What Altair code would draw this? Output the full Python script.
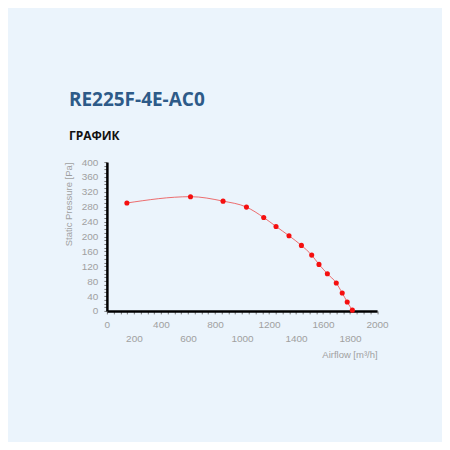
import altair as alt
import pandas as pd

airflow = [148, 619, 860, 1033, 1161, 1252, 1348, 1440, 1516, 1570, 1632, 1698, 1742, 1779, 1817]
pressure = [290, 307, 295, 279, 251, 227, 202, 176, 150, 125, 100, 75, 48, 24, 2]

x_ticks = list(range(0, 2001, 50))
y_ticks = list(range(0, 401, 10))

df = pd.DataFrame({"airflow": airflow, "pressure": pressure})

BG = "#EBF4FC"
GRAY = "#a0a0a0"
FONT = "Liberation Sans"

x_enc = alt.X(
    "airflow:Q",
    scale=alt.Scale(domain=[0, 2000], nice=False, zero=True),
    axis=alt.Axis(
        values=x_ticks,
        labelExpr="datum.value % 400 == 0 ? datum.label : (datum.value % 200 == 0 ? ['', datum.label] : '')",
        labelPadding=6,
        labelLineHeight=14,
        labelOverlap=False,
        labelFlush=False,
        labelBound=False,
        format="d",
        title="Airflow [m³/h]",
        titleAnchor="end",
        titlePadding=6,
    ),
)
y_enc = alt.Y(
    "pressure:Q",
    scale=alt.Scale(domain=[0, 400], nice=False),
    axis=alt.Axis(
        values=y_ticks,
        labelExpr="datum.value % 40 == 0 ? datum.label : ''",
        labelPadding=6,
        labelOverlap=False,
        labelFlush=False,
        labelBound=False,
        format="d",
        title="Static Pressure [Pa]",
        titleAnchor="end",
        titlePadding=8,
    ),
)

base = alt.Chart(df).encode(x=x_enc, y=y_enc)

line = base.mark_line(color="#ec4a4a", strokeWidth=0.8, interpolate="monotone")
points = base.mark_circle(color="#f50f0f", size=26, opacity=1)

chart = (
    alt.layer(line, points)
    .properties(
        width=270.5,
        height=149,
        autosize=alt.AutoSizeParams(type="none"),
        padding={"left": 99, "top": 154, "right": 65, "bottom": 131},
        background=BG,
        title=alt.TitleParams(
            text="RE225F-4E-AC0",
            subtitle="ГРАФИК",
            anchor="start",
            frame="group",
            dx=-38,
            offset=15,
            font="Open Sans",
            fontSize=19,
            fontWeight="bold",
            color="#2d5a88",
            subtitleFont="Open Sans",
            subtitleFontSize=12,
            subtitleFontWeight="bold",
            subtitleColor="#111111",
            subtitlePadding=21,
        ),
    )
    .configure_view(stroke=None)
    .configure_axis(
        grid=False,
        labelOverlap=False,
        domainColor="#000000",
        domainWidth=2.5,
        tickColor="#777777",
        tickSize=3,
        tickWidth=1,
        labelColor=GRAY,
        labelFont=FONT,
        labelFontSize=10,
        titleColor=GRAY,
        titleFont=FONT,
        titleFontSize=9.5,
        titleFontWeight="normal",
    )
)

chart.save("out.html", embed_options={"renderer": "svg", "actions": False})
